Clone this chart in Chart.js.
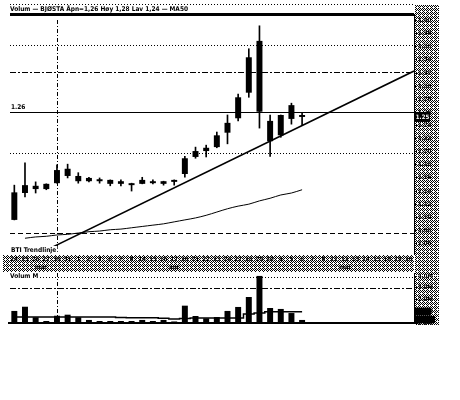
<!DOCTYPE html>
<html><head><meta charset="utf-8">
<script src="https://cdn.jsdelivr.net/npm/chart.js@4"></script>
<style>
html,body{margin:0;padding:0;background:#fff;width:460px;height:400px;overflow:hidden}
#c1{position:absolute;left:0;top:0}
#c2{position:absolute;left:0;top:266px}
</style></head><body>
<canvas id="c1" width="460" height="275"></canvas>
<canvas id="c2" width="460" height="64"></canvas>
<script>
// ---- data ----
const dayLabels = ['24','25','26','27','30','31','1','2','3','6','7','8','14','15','16','17','20','21','22','23','24','27','28','29','30','4','5','6','7','8','11','12','13','14','15','18','19','20'];
const monthLabels = ['mar','apr','mai'];
const monthCenters = [2.5, 15, 31];
const openP  = [1.138,1.137,1.148,1.143,1.152,1.174,1.163,1.160,1.158,1.157,1.151,1.152,1.151,1.155,1.155,1.154,1.166,1.192,1.201,1.207,1.229,1.251,1.290,1.369,1.247,1.225,1.250,1.256];
const highP  = [1.149,1.183,1.154,1.151,1.180,1.181,1.168,1.161,1.160,1.157,1.157,1.152,1.161,1.157,1.155,1.157,1.193,1.207,1.210,1.230,1.256,1.288,1.357,1.392,1.256,1.256,1.274,1.259];
const lowP   = [1.096,1.131,1.137,1.142,1.152,1.160,1.152,1.154,1.152,1.148,1.148,1.140,1.151,1.151,1.149,1.149,1.161,1.190,1.192,1.206,1.212,1.247,1.283,1.236,1.193,1.222,1.242,1.241];
const closeP = [1.096,1.149,1.143,1.151,1.172,1.163,1.155,1.155,1.155,1.151,1.155,1.149,1.157,1.152,1.151,1.157,1.190,1.201,1.206,1.225,1.244,1.283,1.344,1.261,1.216,1.256,1.271,1.253];
const ma50   = [null,1.068,1.070,1.071,1.073,1.074,1.076,1.078,1.079,1.081,1.082,1.084,1.086,1.088,1.090,1.093,1.096,1.099,1.103,1.108,1.113,1.117,1.120,1.125,1.129,1.134,1.137,1.142];
const trendIdx = [2, 37.5];
const trendVal = [1.042, 1.323];
const priceLevels = [1.41, 1.363, 1.3215, 1.26, 1.198, 1.076];
const volume   = [1.03,1.39,0.49,0.17,0.62,0.71,0.49,0.26,0.17,0.17,0.17,0.17,0.26,0.17,0.26,0.13,1.48,0.60,0.40,0.51,1.03,1.37,2.22,4.02,1.28,1.20,0.85,0.26];
const volumeMA = [0.51,0.51,0.51,0.51,0.51,0.51,0.51,0.51,0.51,0.51,0.47,0.45,0.45,0.45,0.40,0.34,0.38,0.43,0.43,0.43,0.43,0.43,0.77,0.85,0.97,0.97,0.97,0.97];
const volumeLevels = [3.95, 3.0];
const markerIndex = 4;

// ---- styles ----
const priceLevelStyles = [
  {w:3, dash:[]}, {w:1, dash:[1,2]}, {w:1, dash:[6,2,2,2]},
  {w:1, dash:[]}, {w:1, dash:[1,2]}, {w:1, dash:[5,3]}
];
const volumeLevelStyles = [{w:1, dash:[1,2]}, {w:1, dash:[6,2,2,2]}];
const FONT = "'DejaVu Sans Condensed','DejaVu Sans',sans-serif";

const patCanvas = (() => {
  const c = document.createElement('canvas'); c.width = 4; c.height = 4;
  const g = c.getContext('2d');
  g.fillStyle = '#fff'; g.fillRect(0,0,4,4);
  g.fillStyle = '#000';
  [[0,0],[2,0],[1,1],[0,2],[2,2],[3,3],[3,1]].forEach(([px,py]) => g.fillRect(px,py,1,1));
  return c;
})();

function hline(ctx, x1, x2, y, st) {
  ctx.lineWidth = st.w; ctx.setLineDash(st.dash);
  const py = Math.round(y) + (st.w % 2 ? 0.5 : 0);
  ctx.beginPath(); ctx.moveTo(x1, py); ctx.lineTo(x2, py); ctx.stroke();
}
function textBg(ctx, t, x, y) {
  const w = ctx.measureText(t).width;
  ctx.fillStyle = '#fff'; ctx.fillRect(x - 1, y - 4, w + 2, 8);
  ctx.fillStyle = '#000'; ctx.fillText(t, x, y);
}

const pricePlugin = {
  id: 'pricePlugin',
  beforeDraw(chart) {
    const {ctx, chartArea: a} = chart;
    ctx.save();
    ctx.fillStyle = '#fff'; ctx.fillRect(0, 0, chart.width, chart.height);
    ctx.fillStyle = ctx.createPattern(patCanvas, 'repeat');
    ctx.fillRect(3, a.bottom + 1, a.right - 3, 17);
    ctx.fillRect(a.right + 1, 5, 24, chart.height - 5);
    ctx.restore();
  },
  beforeDatasetsDraw(chart) {
    const {ctx, chartArea: a, scales: {x, y}} = chart;
    ctx.save();
    ctx.strokeStyle = '#000';
    priceLevels.forEach((v, i) => hline(ctx, a.left + 1, a.right, y.getPixelForValue(v), priceLevelStyles[i]));
    hline(ctx, a.left + 1, a.right, 4, {w:1, dash:[1,2]});
    const mx = Math.round(x.getPixelForValue(markerIndex)) + 0.5;
    ctx.lineWidth = 1; ctx.setLineDash([4,2,1,2]);
    ctx.beginPath(); ctx.moveTo(mx, a.top + 6); ctx.lineTo(mx, a.bottom); ctx.stroke();
    ctx.restore();
  },
  afterDraw(chart) {
    const {ctx, chartArea: a, scales: {x, y}} = chart;
    ctx.save();
    ctx.font = "bold 6.5px " + FONT;
    ctx.textBaseline = 'middle';
    textBg(ctx, 'Volum \u2014 BJØSTA Åpn=1,26 Høy 1,28 Lav 1,24 \u2014 MA50', 10, 9);
    ctx.fillStyle = '#000';
    ctx.fillText('1.26', 11, y.getPixelForValue(1.26) - 5);
    textBg(ctx, 'BTI Trendlinje', 11, a.bottom - 4);
    ctx.font = "bold 6px " + FONT;
    ctx.textAlign = 'center';
    monthLabels.forEach((m, i) => {
      const px = x.getPixelForValue(monthCenters[i]);
      ctx.fillStyle = '#000'; ctx.fillText(m, px, a.bottom + 13.5);
    });
    const last = closeP[closeP.length - 1];
    const ly = y.getPixelForValue(last);
    ctx.fillStyle = '#000'; ctx.fillRect(a.right + 1, ly - 5, 15, 10);
    ctx.fillStyle = '#fff'; ctx.fillText(last.toFixed(2), a.right + 8.5, ly);
    ctx.restore();
  }
};

const volPlugin = {
  id: 'volPlugin',
  beforeDraw(chart) {
    const {ctx, chartArea: a} = chart;
    ctx.save();
    ctx.fillStyle = ctx.createPattern(patCanvas, 'repeat');
    ctx.fillRect(a.right + 1, 10, 24, a.bottom - 8);
    ctx.restore();
  },
  beforeDatasetsDraw(chart) {
    const {ctx, chartArea: a, scales: {x, y}} = chart;
    ctx.save();
    ctx.strokeStyle = '#000';
    volumeLevels.forEach((v, i) => hline(ctx, a.left + 1, a.right, y.getPixelForValue(v), volumeLevelStyles[i]));
    const mx = Math.round(x.getPixelForValue(markerIndex)) + 0.5;
    ctx.lineWidth = 1; ctx.setLineDash([4,2,1,2]);
    ctx.beginPath(); ctx.moveTo(mx, a.top); ctx.lineTo(mx, a.bottom); ctx.stroke();
    ctx.restore();
  },
  afterDraw(chart) {
    const {ctx, chartArea: a, scales: {y}} = chart;
    ctx.save();
    ctx.font = "bold 6.5px " + FONT;
    ctx.textBaseline = 'middle';
    textBg(ctx, 'Volum M', 10, y.getPixelForValue(volumeLevels[0]));
    ctx.fillStyle = '#000';
    const lm = y.getPixelForValue(volumeMA[volumeMA.length - 1]);
    ctx.fillRect(a.right + 1, lm - 4, 16, 8);
    const lv = y.getPixelForValue(volume[volume.length - 1]);
    ctx.fillRect(a.right + 1, lv - 4, 20, a.bottom - lv + 4);
    ctx.restore();
  }
};

Chart.defaults.font.family = FONT;
Chart.defaults.color = '#000';

new Chart(document.getElementById('c1'), {
  type: 'bar',
  data: {
    labels: dayLabels,
    datasets: [
      { type: 'bar', data: openP.map((o, i) => [o, closeP[i]]), backgroundColor: '#000',
        barPercentage: 0.56, categoryPercentage: 1, grouped: false },
      { type: 'bar', data: lowP.map((l, i) => [l, highP[i]]), backgroundColor: '#000',
        barThickness: 1, grouped: false },
      { type: 'line', data: ma50, borderColor: '#000', borderWidth: 1, pointRadius: 0, tension: 0.3 },
      { type: 'line', xAxisID: 'xl', data: trendIdx.map((t, i) => ({x: t, y: trendVal[i]})),
        borderColor: '#000', borderWidth: 1.5, pointRadius: 0 }
    ]
  },
  options: {
    responsive: false, animation: false, devicePixelRatio: 1, events: [],
    layout: { padding: { left: 9, right: 22, top: 14, bottom: 3 } },
    plugins: { legend: { display: false }, tooltip: { enabled: false } },
    scales: {
      x: { type: 'category', position: 'bottom', offset: true,
           grid: { display: false, drawTicks: false }, border: { display: false },
           ticks: { autoSkip: false, maxRotation: 0, padding: 2, font: { size: 6, weight: 'bold' } },
           afterFit(s) { s.height = 18; } },
      xl: { type: 'linear', min: -0.5, max: 37.5, offset: false, display: false,
            grid: { offset: false } },
      y: { position: 'right', min: 1.044, max: 1.41,
           grid: { drawOnChartArea: false, tickLength: 3, color: '#000' },
           border: { display: true, color: '#000' },
           ticks: { stepSize: 0.02, includeBounds: false, padding: 1, font: { size: 6, weight: 'bold' },
                    callback: v => v.toFixed(2) },
           afterFit(s) { s.width = 24; } }
    }
  },
  plugins: [pricePlugin]
});

new Chart(document.getElementById('c2'), {
  type: 'bar',
  data: {
    labels: dayLabels,
    datasets: [
      { type: 'line', data: volumeMA, borderColor: '#000', borderWidth: 1.5, pointRadius: 0, stepped: 'middle' },
      { type: 'bar', data: volume, backgroundColor: '#000', barPercentage: 0.56, categoryPercentage: 1 }
    ]
  },
  options: {
    responsive: false, animation: false, devicePixelRatio: 1, events: [],
    layout: { padding: { left: 9, right: 22, top: 7, bottom: 5 } },
    plugins: { legend: { display: false }, tooltip: { enabled: false } },
    scales: {
      x: { offset: true, grid: { display: false, drawTicks: false },
           border: { display: true, color: '#000', width: 2 },
           ticks: { display: false }, afterFit(s) { s.height = 2; } },
      y: { position: 'right', min: 0, max: 4.27,
           grid: { drawOnChartArea: false, tickLength: 3, color: '#000' },
           border: { display: true, color: '#000' },
           ticks: { stepSize: 1, includeBounds: false, padding: 1, font: { size: 6, weight: 'bold' },
                    callback: v => v.toFixed(1) + 'M' },
           afterFit(s) { s.width = 24; } }
    }
  },
  plugins: [volPlugin]
});
</script>
</body></html>
